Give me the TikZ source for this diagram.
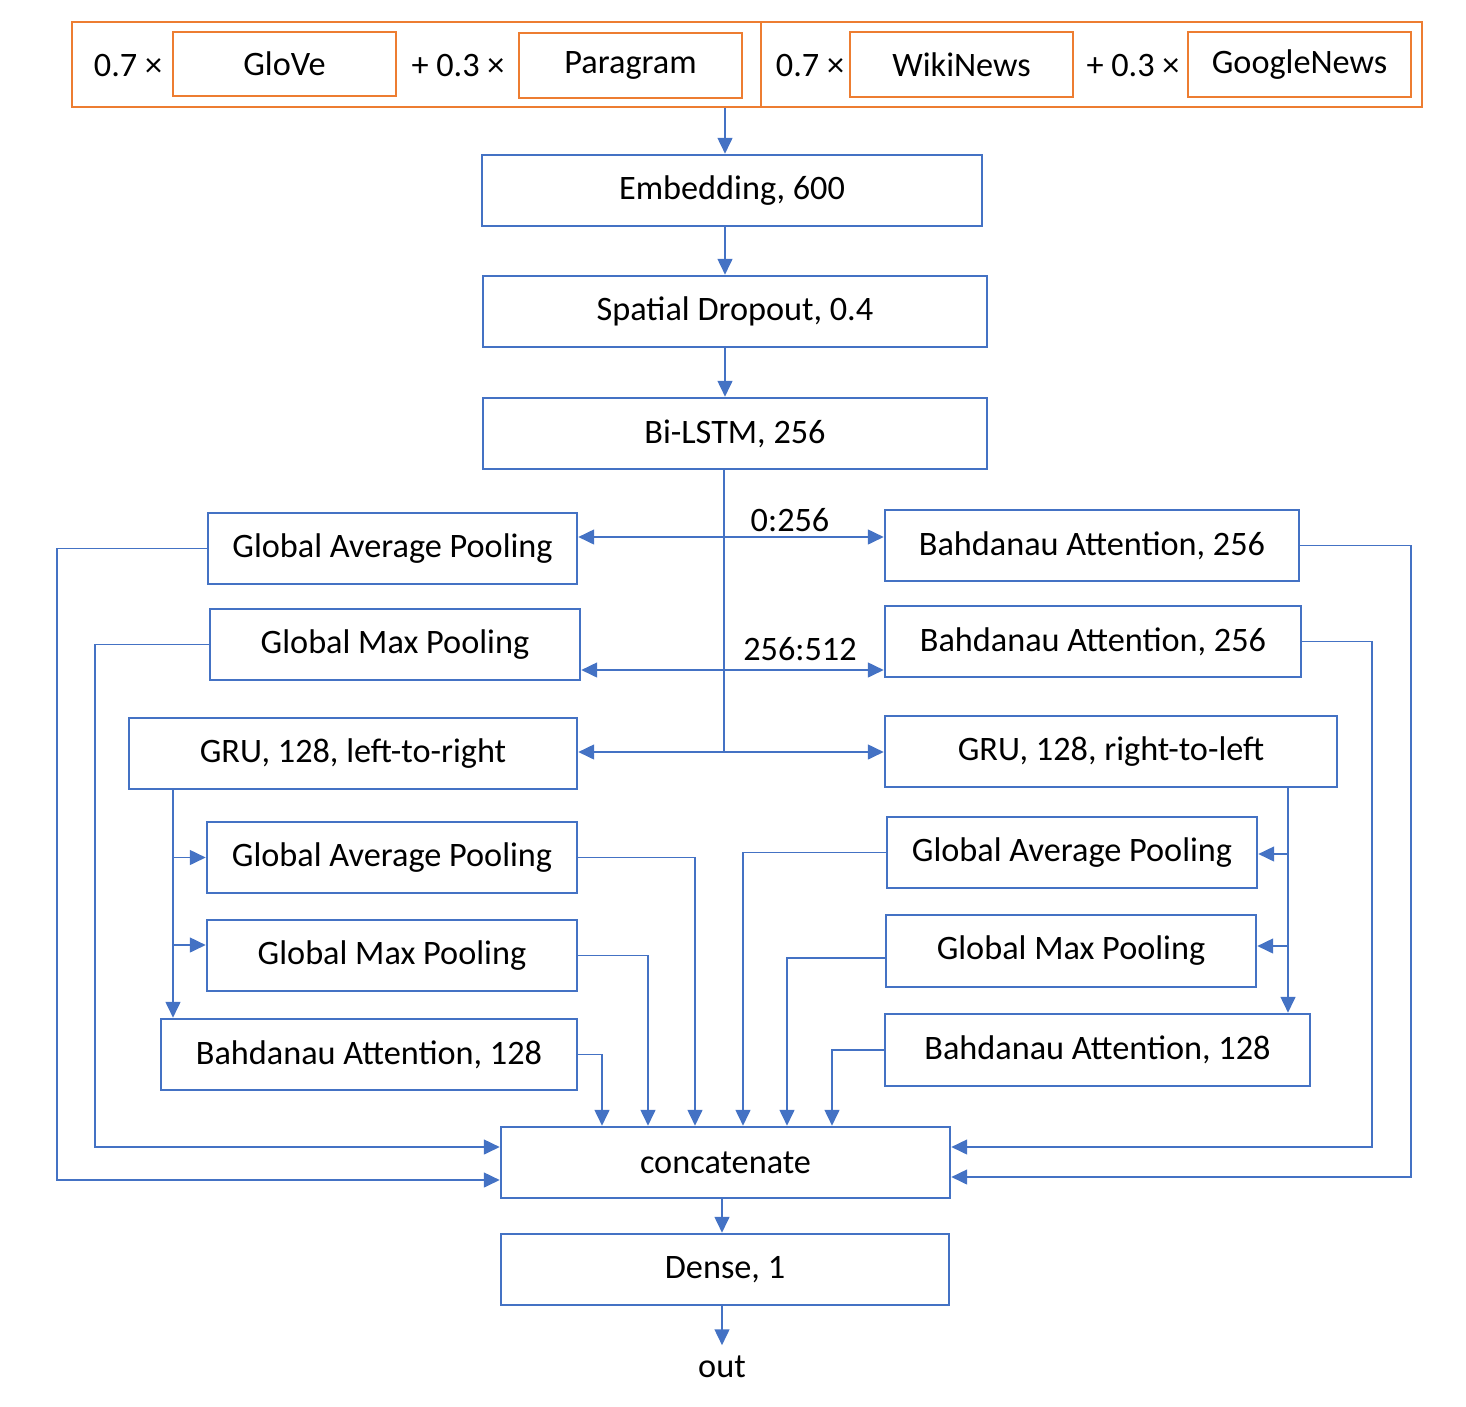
\documentclass[tikz,border=0pt]{standalone}
\usepackage{fontspec}
\setmainfont{Carlito}
\usetikzlibrary{arrows.meta}
\definecolor{bl}{HTML}{4472C4}
\definecolor{og}{HTML}{ED7D31}
\def\pu{0.02cm}
\tikzset{
  box/.style={draw=bl, line width=1.5pt, inner sep=0pt, align=center},
  obox/.style={draw=og, line width=1.6pt, inner sep=0pt},
  sz/.style 2 args={minimum width=#1*\pu, minimum height=#2*\pu},
  arr/.style={draw=bl, line width=0.8pt, -{Triangle[length=9pt,width=8.5pt]}},
  ln/.style={draw=bl, line width=0.8pt},
  trunk/.style={draw=bl, line width=1.2pt},
  lbl/.style={inner sep=1pt}
}
\begin{document}
\begin{tikzpicture}[x=0.02cm,y=-0.02cm,font=\fontsize{19.5}{23}\selectfont]
\useasboundingbox (0,0) rectangle (1466,1406);
% top orange group
\node[obox, sz={689}{85}] (outL) at (416.5,64.5) {};
\node[obox, sz={661}{85}] (outR) at (1091.5,64.5) {};
\node[obox, sz={223}{64}] (glove) at (284.5,64) {GloVe};
\node[obox, sz={223}{65}] (para) at (630.5,65.5) {Paragram};
\node[obox, sz={223}{65}] (wiki) at (961.5,64.5) {WikiNews};
\node[obox, sz={223}{65}] (gnews) at (1299.5,64.5) {GoogleNews};
\node[lbl] (m1) at (128,66) {0.7 ×};
\node[lbl] (p1) at (458,66) {+ 0.3 ×};
\node[lbl] (m2) at (810,66) {0.7 ×};
\node[lbl] (p2) at (1133,66) {+ 0.3 ×};
% main column
\node[box, sz={500}{71}] (emb) at (732,190.5) {Embedding, 600};
\node[box, sz={504}{71}] (sdo) at (735,311.5) {Spatial Dropout, 0.4};
\node[box, sz={504}{71}] (lstm) at (735,433.5) {Bi-LSTM, 256};
% branch boxes
\node[box, sz={369}{71}] (gapL) at (392.5,548.5) {Global Average Pooling};
\node[box, sz={370}{71}] (gmpL) at (395,644.5) {Global Max Pooling};
\node[box, sz={448}{71}] (gruL) at (353,753.5) {GRU, 128, left-to-right};
\node[box, sz={414}{71}] (bah1) at (1092,545.5) {Bahdanau Attention, 256};
\node[box, sz={416}{71}] (bah2) at (1093,641.5) {Bahdanau Attention, 256};
\node[box, sz={452}{71}] (gruR) at (1111,751.5) {GRU, 128, right-to-left};
\node[box, sz={370}{71}] (gap2) at (392,857.5) {Global Average Pooling};
\node[box, sz={370}{71}] (gmp2) at (392,955.5) {Global Max Pooling};
\node[box, sz={416}{71}] (bahL) at (369,1054.5) {Bahdanau Attention, 128};
\node[box, sz={370}{71}] (gapR) at (1072,852.5) {Global Average Pooling};
\node[box, sz={370}{72}] (gmpR) at (1071,951) {Global Max Pooling};
\node[box, sz={425}{72}] (bahR) at (1097.5,1050) {Bahdanau Attention, 128};
\node[box, sz={449}{71}] (cat) at (725.5,1162.5) {concatenate};
\node[box, sz={448}{71}] (dense) at (725,1269.5) {Dense, 1};
\node[inner sep=6pt] (out) at (722,1367) {out};
% helper coordinates
\coordinate (tx) at (725,0);
\coordinate (tr) at (724,0);
\coordinate (b1) at (724,537);
\coordinate (b2) at (724,670);
\coordinate (b3) at (724,752);
\coordinate (xL1) at (57,0);
\coordinate (xL2) at (95,0);
\coordinate (xR1) at (1411,0);
\coordinate (xR2) at (1372,0);
\coordinate (yc1) at (0,1180);
\coordinate (yc2) at (0,1147);
\coordinate (yc3) at (0,1177);
\coordinate (gl) at (173,0);
\coordinate (gr) at (1288,0);
\coordinate (ya) at (0,945);
\coordinate (yb) at (0,854);
\coordinate (yc) at (0,946);
\coordinate (ygm) at (0,958);
\coordinate (t1) at (602,0);
\coordinate (t2) at (648,0);
\coordinate (t3) at (695,0);
\coordinate (t4) at (743,0);
\coordinate (t5) at (787,0);
\coordinate (t6) at (832,0);
\coordinate (xd) at (722,0);
% main arrows
\draw[arr] (outL.south -| tx) -- (emb.north -| tx);
\draw[arr] (emb.south -| tx) -- (sdo.north -| tx);
\draw[arr] (sdo.south -| tx) -- (lstm.north -| tx);
\draw[trunk] (lstm.south -| tr) -- (b3);
\draw[arr] (b1) -- (b1 -| gapL.east);
\draw[arr] (b1) -- (b1 -| bah1.west);
\draw[arr] (b2) -- (b2 -| gmpL.east);
\draw[arr] (b2) -- (b2 -| bah2.west);
\draw[arr] (b3) -- (b3 -| gruL.east);
\draw[arr] (b3) -- (b3 -| gruR.west);
\node[lbl] (l1) at (790,520) {0:256};
\node[lbl] (l2) at (800,649) {256:512};
% outer feedback
\draw[arr] (gapL.west) -- (gapL.west -| xL1) |- (cat.west |- yc1);
\draw[arr] (gmpL.west) -- (gmpL.west -| xL2) |- (cat.west |- yc2);
\draw[arr] (bah1.east) -- (bah1.east -| xR1) |- (cat.east |- yc3);
\draw[arr] (bah2.east) -- (bah2.east -| xR2) |- (cat.east |- yc2);
% GRU left branches
\draw[arr] (gruL.south -| gl) -- (bahL.north -| gl);
\draw[arr] (gl |- gap2.west) -- (gap2.west);
\draw[arr] (gl |- ya) -- (gmp2.west |- ya);
% GRU right branches
\draw[arr] (gruR.south -| gr) -- (bahR.north -| gr);
\draw[arr] (gr |- yb) -- (gapR.east |- yb);
\draw[arr] (gr |- yc) -- (gmpR.east |- yc);
% into concatenate
\draw[arr] (bahL.east) -| (cat.north -| t1);
\draw[arr] (gmp2.east) -| (cat.north -| t2);
\draw[arr] (gap2.east) -| (cat.north -| t3);
\draw[arr] (gapR.west) -| (cat.north -| t4);
\draw[arr] (gmpR.west |- ygm) -| (cat.north -| t5);
\draw[arr] (bahR.west) -| (cat.north -| t6);
% output
\draw[arr] (cat.south -| xd) -- (dense.north -| xd);
\draw[arr] (dense.south -| xd) -- (out.north);
\end{tikzpicture}
\end{document}
